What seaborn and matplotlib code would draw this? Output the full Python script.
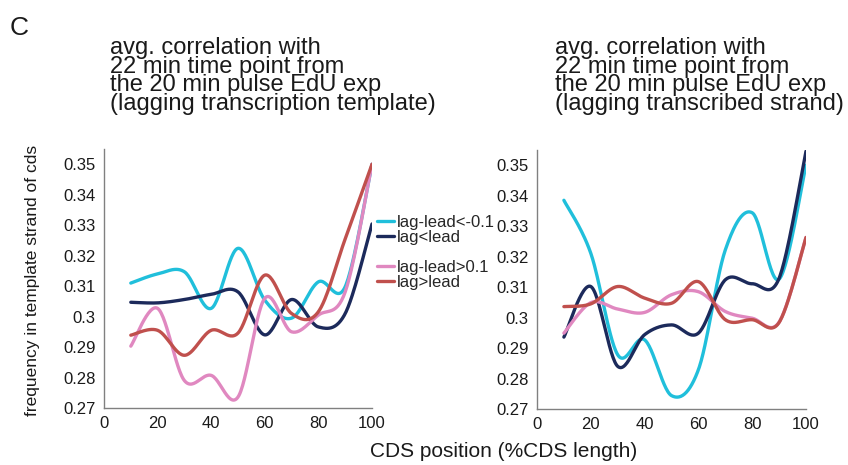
import numpy as np
import pandas as pd
import matplotlib
matplotlib.use("Agg")
import matplotlib.pyplot as plt
from matplotlib.lines import Line2D
import seaborn as sns

# ---------------- data ----------------
positions = [10, 20, 30, 40, 50, 60, 70, 80, 90, 100]

series_names = ["lag-lead<-0.1", "lag<lead", "lag-lead>0.1", "lag>lead"]

# left panel: lagging transcription template
left_cyan = [0.311, 0.314, 0.3147, 0.3027, 0.3224, 0.3054, 0.2995, 0.3114, 0.3098, 0.350]
left_navy = [0.3047, 0.3045, 0.3056, 0.3073, 0.3081, 0.2940, 0.3056, 0.2966, 0.3010, 0.3304]
left_pink = [0.2903, 0.3027, 0.2790, 0.2807, 0.2736, 0.3060, 0.2950, 0.3005, 0.3081, 0.350]
left_red = [0.2939, 0.2955, 0.2873, 0.2955, 0.2946, 0.3136, 0.3010, 0.3016, 0.3255, 0.350]

# right panel: lagging transcribed strand
right_cyan = [0.3385, 0.3211, 0.2878, 0.2927, 0.2744, 0.2829, 0.3222, 0.3344, 0.3126, 0.350]
right_navy = [0.2936, 0.3102, 0.2840, 0.2944, 0.2976, 0.2949, 0.3124, 0.3111, 0.3129, 0.3546]
right_pink = [0.2949, 0.3049, 0.3028, 0.3017, 0.3075, 0.3085, 0.3020, 0.2998, 0.2985, 0.3263]
right_red = [0.3036, 0.3045, 0.3102, 0.3064, 0.3047, 0.3118, 0.2993, 0.2993, 0.2984, 0.3263]

y_ticks = [0.27, 0.28, 0.29, 0.30, 0.31, 0.32, 0.33, 0.34, 0.35]
y_ticklabels = ["0.27", "0.28", "0.29", "0.3", "0.31", "0.32", "0.33", "0.34", "0.35"]
x_ticks = [0, 20, 40, 60, 80, 100]

title_lines_left = ["avg. correlation with", "22 min time point from",
                    "the 20 min pulse EdU exp", "(lagging transcription template)"]
title_lines_right = ["avg. correlation with", "22 min time point from",
                     "the 20 min pulse EdU exp", "(lagging transcribed strand)"]

colors = ["#20bfdb", "#1c2a5b", "#e088c0", "#c0504d"]

# ---------------- helpers ----------------
def smooth(xs, ys, n=30):
    """Excel-like smoothed line (Catmull-Rom Bezier) through the points."""
    xs = np.asarray(xs, float)
    ys = np.asarray(ys, float)
    P = np.column_stack([xs, ys])
    out = []
    m = len(P)
    t = np.linspace(0, 1, n)[:, None]
    for i in range(m - 1):
        p0 = P[i - 1] if i > 0 else P[i]
        p1 = P[i]
        p2 = P[i + 1]
        p3 = P[i + 2] if i + 2 < m else P[i + 1]
        c1 = p1 + (p2 - p0) / 6.0
        c2 = p2 - (p3 - p1) / 6.0
        seg = ((1 - t) ** 3) * p1 + 3 * ((1 - t) ** 2) * t * c1 + 3 * (1 - t) * t ** 2 * c2 + t ** 3 * p2
        out.append(seg if i == 0 else seg[1:])
    arr = np.vstack(out)
    return arr[:, 0], arr[:, 1]


sns.set_theme(style="white")
plt.rcParams["font.family"] = ["Liberation Sans", "DejaVu Sans"]

fig = plt.figure(figsize=(8.48, 4.65), dpi=100)
W, H = 848, 465

def ax_at(x0, y0, x1, y1):
    return fig.add_axes([x0 / W, 1 - y1 / H, (x1 - x0) / W, (y1 - y0) / H])

axL = ax_at(104, 149, 372, 408)
axR = ax_at(537, 150, 806, 409)

panels = [
    (axL, [left_cyan, left_navy, left_pink, left_red]),
    (axR, [right_cyan, right_navy, right_pink, right_red]),
]

for ax, vals in panels:
    for name, v, c in zip(series_names, vals, colors):
        sx, sy = smooth(positions, v)
        df = pd.DataFrame({"x": sx, "y": sy})
        sns.lineplot(data=df, x="x", y="y", ax=ax, color=c, linewidth=2.4,
                     sort=False, estimator=None)
    ax.set_xlim(0, 100)
    ax.set_ylim(0.27, 0.355)
    ax.set_xticks(x_ticks)
    ax.set_xticklabels([str(t) for t in x_ticks], fontsize=12)
    ax.set_yticks(y_ticks)
    ax.set_yticklabels(y_ticklabels, fontsize=12)
    ax.set_xlabel("")
    ax.set_ylabel("")
    for s in ["top", "right"]:
        ax.spines[s].set_visible(False)
    for s in ["left", "bottom"]:
        ax.spines[s].set_color("#808080")
        ax.spines[s].set_linewidth(1.0)
    ax.tick_params(axis="both", direction="out", length=3, width=0.8,
                   color="#808080", labelcolor="#1a1a1a", pad=3)
    ax.set_facecolor("none")

# legend (left panel)
handles = [Line2D([], [], color=colors[0], lw=2.4),
           Line2D([], [], color=colors[1], lw=2.4),
           Line2D([], [], color="none", lw=0),
           Line2D([], [], color=colors[2], lw=2.4),
           Line2D([], [], color=colors[3], lw=2.4)]
labels = [series_names[0], series_names[1], "", series_names[2], series_names[3]]
fig.legend(handles, labels, loc="upper left", bbox_to_anchor=(377 / W, 1 - 215 / H),
           frameon=False, fontsize=12, handlelength=1.0, handletextpad=0.2,
           labelspacing=0.0, borderaxespad=0, borderpad=0)

# titles (one text block each)
fig.text(110 / W, 1 - 37 / H, "\n".join(title_lines_left), fontsize=17, va="top",
         ha="left", color="#1a1a1a", linespacing=0.8, multialignment="left")
fig.text(555 / W, 1 - 37 / H, "\n".join(title_lines_right), fontsize=17, va="top",
         ha="left", color="#1a1a1a", linespacing=0.8, multialignment="left")

fig.text(10 / W, 1 - 35 / H, "C", fontsize=19, va="baseline", ha="left", color="#1a1a1a")

fig.text(504 / W, 1 - 457 / H, "CDS position (%CDS length)", fontsize=15, va="baseline",
         ha="center", color="#1a1a1a")
fig.text(33 / W, 1 - 280 / H, "frequency in template strand of cds", fontsize=12.5,
         rotation=90, va="center", ha="center", color="#1a1a1a")

fig.savefig("out.png", dpi=100, facecolor="white")
